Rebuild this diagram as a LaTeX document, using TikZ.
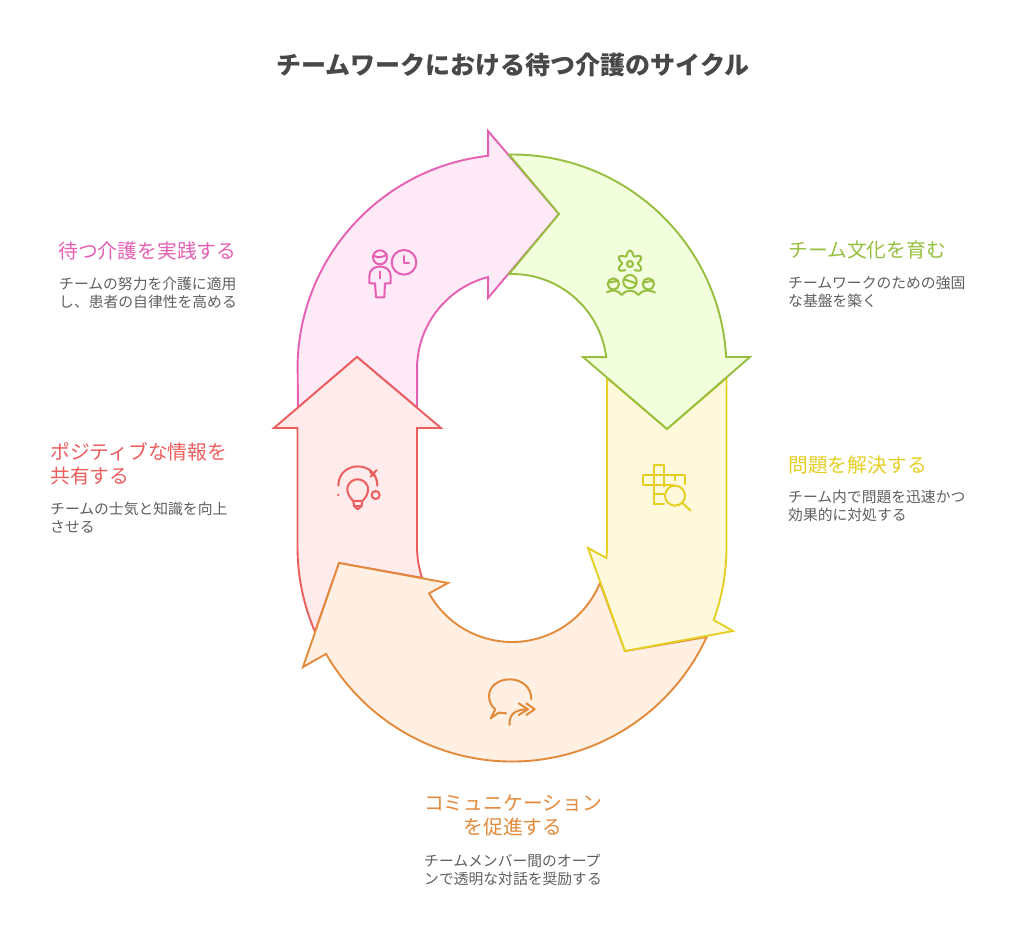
\documentclass[tikz,border=0pt]{standalone}
\usepackage{fontspec}
\setmainfont{Noto Sans CJK JP}
\definecolor{pinkS}{HTML}{E55FB2}\definecolor{pinkF}{HTML}{FEE9F7}
\definecolor{greenS}{HTML}{96BF3F}\definecolor{greenF}{HTML}{F2FEDC}
\definecolor{yellowS}{HTML}{E5CF24}\definecolor{yellowF}{HTML}{FFF9DB}
\definecolor{orangeS}{HTML}{E48A3C}\definecolor{orangeF}{HTML}{FFF0E3}
\definecolor{redS}{HTML}{EC5E5E}\definecolor{redF}{HTML}{FFEBEB}
\definecolor{titleC}{HTML}{484848}\definecolor{descC}{HTML}{5F5F5F}
\tikzset{
  band/.style={line width=1.9pt,line join=miter,miter limit=10},
  headtext/.style={anchor=west,inner sep=0pt,align=left,font=\fontsize{19.8}{24}\selectfont},
  desctext/.style={anchor=west,inner sep=0pt,align=left,text=descC,font=\fontsize{14.8}{18}\selectfont},
  iconline/.style={line width=2pt,line cap=round,line join=round,fill=none},
  iconbox/.style={x=0.3333pt,y=-0.3333pt}
}
\begin{document}
\begin{tikzpicture}[x=1pt,y=1pt]
\useasboundingbox (0,0) rectangle (1024,935);
\fill[white] (0,0) rectangle (1024,935);
\coordinate (U) at (512,566);
\coordinate (L) at (512,388);
% pink
\draw[band,draw=pinkS,fill=pinkF] (298,527.5) -- ([shift={(178.4:214.5)}]U) arc[start angle=178.4,end angle=96.4,radius=214.5]
  -- (488,804) -- (559,721) -- (488,637) -- ([shift={(104.6:95)}]U) arc[start angle=104.6,end angle=176.4,radius=95]
  -- (417,527.5) -- (357,578) -- cycle;
% red
\draw[band,draw=redS,fill=redF] ([shift={(203.3:214.5)}]L) arc[start angle=203.3,end angle=180,radius=214.5]
  -- (297.5,507) -- (274,507) -- (357,578) -- (441,507) -- (417,507) -- (417,388) arc[start angle=180,end angle=199,radius=95]
  -- (339,372) -- cycle;
% orange
\draw[band,draw=orangeS,fill=orangeF] ([shift={(-24.8:214.5)}]L) arc[start angle=-24.8,end angle=-150.1,radius=214.5]
  -- (303,268) -- (339,372) -- (448,352) -- ([shift={(-150.8:95)}]L) arc[start angle=-150.8,end angle=-22.2,radius=95]
  -- (625,284) -- cycle;
% yellow
\draw[band,draw=yellowS,fill=yellowF] (607,557) -- (607,388) arc[start angle=0,end angle=-6.6,radius=95]
  -- (588,387) -- (625,284) -- (733,304) -- ([shift={(-19.9:214.5)}]L) arc[start angle=-19.9,end angle=0,radius=214.5]
  -- (726.5,557) -- (667,506) -- cycle;
% green
\draw[band,draw=greenS,fill=greenF] ([shift={(90.8:214.5)}]U) arc[start angle=90.8,end angle=3.2,radius=214.5]
  -- (750,578) -- (667,506) -- (583,578) -- ([shift={(7.2:95)}]U) arc[start angle=7.2,end angle=91.8,radius=95]
  -- (559,721) -- cycle;

% pink icon (person and clock)
\begin{scope}[shift={(350,695)},iconbox,iconline,draw=pinkS]
  \draw (90,52) circle[radius=21];
  \draw (70,47) .. controls (85,55) and (100,52) .. (110,43);
  \draw (162,67) circle[radius=37];
  \draw (162,48) -- (162,70) -- (177,70);
  \draw (78,172) -- (75,130) -- (58,130) -- (58,108) .. controls (58,70) and (122,70) .. (122,108) -- (122,130) -- (105,130) -- (103,172) -- cycle;
  \draw (90,95) -- (90,115);
\end{scope}
% green icon (gear and people)
\begin{scope}[shift={(595,695)},iconbox,iconline,draw=greenS]
  \draw[shift={(105,70)}] plot[domain=125:415,samples=90,smooth] ({\x}:{31-7*cos(6*\x)});
  \draw (105,72) circle[radius=9];
  \draw (55,132) circle[radius=17];
  \draw (105,125) circle[radius=20];
  \draw (160,132) circle[radius=17];
  \draw (40,128) -- (70,122);
  \draw (88,118) -- (123,130);
  \draw (145,128) -- (175,122);
  \draw (36,157) .. controls (50,148) and (70,150) .. (80,165) .. controls (90,148) and (120,148) .. (130,165) .. controls (140,150) and (160,148) .. (180,157);
\end{scope}
% yellow icon (crossword and magnifier)
\begin{scope}[shift={(630,480)},iconbox,iconline,draw=yellowS]
  \draw (72,60) -- (40,60) -- (40,90) -- (130,90);
  \draw (103,60) -- (165,60) -- (165,88);
  \draw (72,148) -- (72,30) -- (103,30) -- (103,95);
  \draw (72,148) -- (102,148);
  \draw (72,118) -- (100,118);
  \draw (72,60) -- (103,60);
  \draw (135,60) -- (135,76);
  \draw (135,122) circle[radius=30];
  \draw (158,145) -- (182,167);
\end{scope}
% red icon (bulb)
\begin{scope}[shift={(325,480)},iconbox,iconline,draw=redS]
  \draw (40,92) .. controls (40,15) and (157,15) .. (157,92);
  \draw (137,65) -- (155,45);
  \draw (135,50) -- (150,65);
  \fill[redS] (40,120) circle[radius=4];
  \draw (152,120) circle[radius=12];
  \draw (85,138) .. controls (50,105) and (72,73) .. (98,73) .. controls (124,73) and (146,105) .. (112,138) -- cycle;
  \draw (85,138) -- (87,153) -- (98,163) -- (110,153) -- (112,138);
  \draw (87,153) -- (110,153);
\end{scope}
% orange icon (speech bubble and arrow)
\begin{scope}[shift={(478,265)},iconbox,iconline,draw=orangeS]
  \draw (160,88) .. controls (160,50) and (130,28) .. (95,28) .. controls (60,28) and (33,50) .. (33,78) .. controls (33,95) and (40,108) .. (52,118) -- (38,145) -- (62,128) -- (85,130);
  \draw (95,165) .. controls (92,130) and (115,118) .. (150,118);
  \draw (122,100) -- (150,118) -- (122,135);
  \draw (145,100) -- (170,118) -- (145,135);
\end{scope}

% text
\node (title) [inner sep=0pt,text=titleC,font=\fontsize{25}{30}\selectfont\bfseries] at (513,870) {チームワークにおける待つ介護のサイクル};
\node (h1) [headtext,text=pinkS] at (58,684) {待つ介護を実践する};
\node (d1) [desctext] at (59,642.5) {チームの努力を介護に適用\\し、患者の自律性を高める};
\node (h2) [headtext,text=greenS] at (788,685) {チーム文化を育む};
\node (d2) [desctext] at (788,643.5) {チームワークのための強固\\な基盤を築く};
\node (h3) [headtext,text=yellowS] at (788,470.5) {問題を解決する};
\node (d3) [desctext] at (788,429.5) {チーム内で問題を迅速かつ\\効果的に対処する};
\node (h4) [headtext,text=redS] at (50,471) {ポジティブな情報を\\共有する};
\node (d4) [desctext] at (50,417.5) {チームの士気と知識を向上\\させる};
\node (h5) [headtext,align=center,text=orangeS,anchor=center] at (513,119.5) {コミュニケーション\\を促進する};
\node (d5) [desctext] at (424,65.5) {チームメンバー間のオープ\\ンで透明な対話を奨励する};
\end{tikzpicture}
\end{document}
